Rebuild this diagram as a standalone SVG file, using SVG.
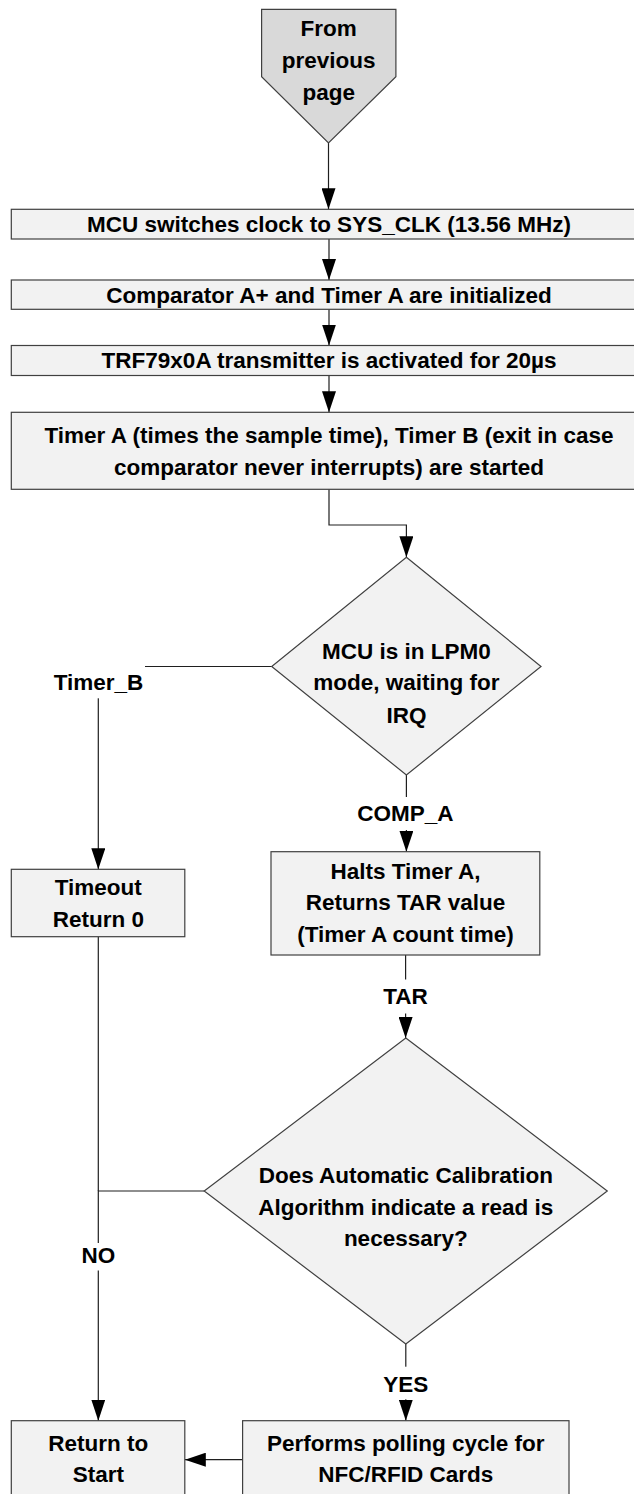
<svg xmlns="http://www.w3.org/2000/svg" width="634" height="1494" viewBox="0 0 634 1494">
<style>
.box{fill:#f2f2f2;stroke:#404040;stroke-width:1.2}
.start{fill:#d9d9d9;stroke:#404040;stroke-width:1.2}
.t{font-family:"Liberation Sans",Arial,sans-serif;font-weight:bold;font-size:22.5px;text-anchor:middle;fill:#000}
.c{fill:none;stroke:#1f1f1f;stroke-width:1.2}
.lbg{fill:#fff;stroke:none}
</style>
<defs>
<marker id="ah" markerUnits="userSpaceOnUse" markerWidth="21" markerHeight="14" refX="21" refY="7" orient="auto">
<path d="M0,0 L21,7 L0,14 z" fill="#000"/>
</marker>
</defs>
<rect width="634" height="1494" fill="#fff"/>
<g id="connectors">
<path class="c" d="M328.5,143 V209.3" marker-end="url(#ah)"/>
<path class="c" d="M329,239 V280" marker-end="url(#ah)"/>
<path class="c" d="M329,309.3 V345.5" marker-end="url(#ah)"/>
<path class="c" d="M329,375.5 V412.3" marker-end="url(#ah)"/>
<path class="c" d="M329,489.3 V525 H406.4 V557.3" marker-end="url(#ah)"/>
<path class="c" d="M271.7,666.5 H98.3 V869.3" marker-end="url(#ah)"/>
<path class="c" d="M406.4,775 V851.7" marker-end="url(#ah)"/>
<path class="c" d="M405.6,955 V1038" marker-end="url(#ah)"/>
<path class="c" d="M98.3,936.7 V1191"/>
<path class="c" d="M204.2,1191 H98.3 V1420.7" marker-end="url(#ah)"/>
<path class="c" d="M405.8,1344 V1420.7" marker-end="url(#ah)"/>
<path class="c" d="M242.6,1459.7 H184.8" marker-end="url(#ah)"/>
<rect class="lbg" x="48" y="655" width="97" height="43.3"/>
<text class="t" x="98.5" y="690">Timer_B</text>
<rect class="lbg" x="352" y="797" width="108" height="33"/>
<text class="t" x="405.5" y="821">COMP_A</text>
<rect class="lbg" x="378" y="979.5" width="55" height="34"/>
<text class="t" x="405.5" y="1004">TAR</text>
<rect class="lbg" x="76" y="1243" width="45" height="27.5"/>
<text class="t" x="98.3" y="1263">NO</text>
<rect class="lbg" x="380" y="1366.7" width="52" height="32.6"/>
<text class="t" x="405.8" y="1391.5">YES</text>
</g>
<g id="n_start">
<polygon class="start" points="261.6,9.3 395.9,9.3 395.9,76.7 328.5,143 261.6,76.7"/>
<text class="t" x="328.7" y="36">From</text>
<text class="t" x="328.7" y="68">previous</text>
<text class="t" x="328.7" y="100">page</text>
</g>
<g id="n_clock">
<rect class="box" x="11.3" y="209.3" width="636" height="29.7"/>
<text class="t" x="329" y="232">MCU switches clock to SYS_CLK (13.56 MHz)</text>
</g>
<g id="n_comp">
<rect class="box" x="11.3" y="280" width="636" height="29.3"/>
<text class="t" x="329" y="302.5">Comparator A+ and Timer A are initialized</text>
</g>
<g id="n_trf">
<rect class="box" x="11.3" y="345.5" width="636" height="30"/>
<text class="t" x="329" y="368">TRF79x0A transmitter is activated for 20µs</text>
</g>
<g id="n_timers">
<rect class="box" x="11.3" y="412.3" width="636" height="77"/>
<text class="t" x="329" y="443">Timer A (times the sample time), Timer B (exit in case</text>
<text class="t" x="329" y="474.5">comparator never interrupts) are started</text>
</g>
<g id="n_lpm">
<polygon class="box" points="406.4,557.3 541,666.5 406.4,775 271.7,666.5"/>
<text class="t" x="406.4" y="659">MCU is in LPM0</text>
<text class="t" x="406.4" y="690">mode, waiting for</text>
<text class="t" x="406.4" y="722.5">IRQ</text>
</g>
<g id="n_timeout">
<rect class="box" x="11.3" y="869.3" width="173.5" height="67.4"/>
<text class="t" x="98.3" y="895">Timeout</text>
<text class="t" x="98.3" y="926.5">Return 0</text>
</g>
<g id="n_halts">
<rect class="box" x="271" y="851.7" width="268.8" height="103.3"/>
<text class="t" x="405.5" y="878.5">Halts Timer A,</text>
<text class="t" x="405.5" y="910">Returns TAR value</text>
<text class="t" x="405.5" y="941.5">(Timer A count time)</text>
</g>
<g id="n_calib">
<polygon class="box" points="405.8,1038 607.3,1191 405.8,1344 204.2,1191"/>
<text class="t" x="405.8" y="1183">Does Automatic Calibration</text>
<text class="t" x="405.8" y="1214.5">Algorithm indicate a read is</text>
<text class="t" x="405.8" y="1246">necessary?</text>
</g>
<g id="n_return">
<rect class="box" x="11.3" y="1420.7" width="173.5" height="90"/>
<text class="t" x="98.3" y="1451">Return to</text>
<text class="t" x="98.3" y="1482">Start</text>
</g>
<g id="n_poll">
<rect class="box" x="242.6" y="1420.7" width="326.4" height="90"/>
<text class="t" x="405.8" y="1451">Performs polling cycle for</text>
<text class="t" x="405.8" y="1482">NFC/RFID Cards</text>
</g>
</svg>
